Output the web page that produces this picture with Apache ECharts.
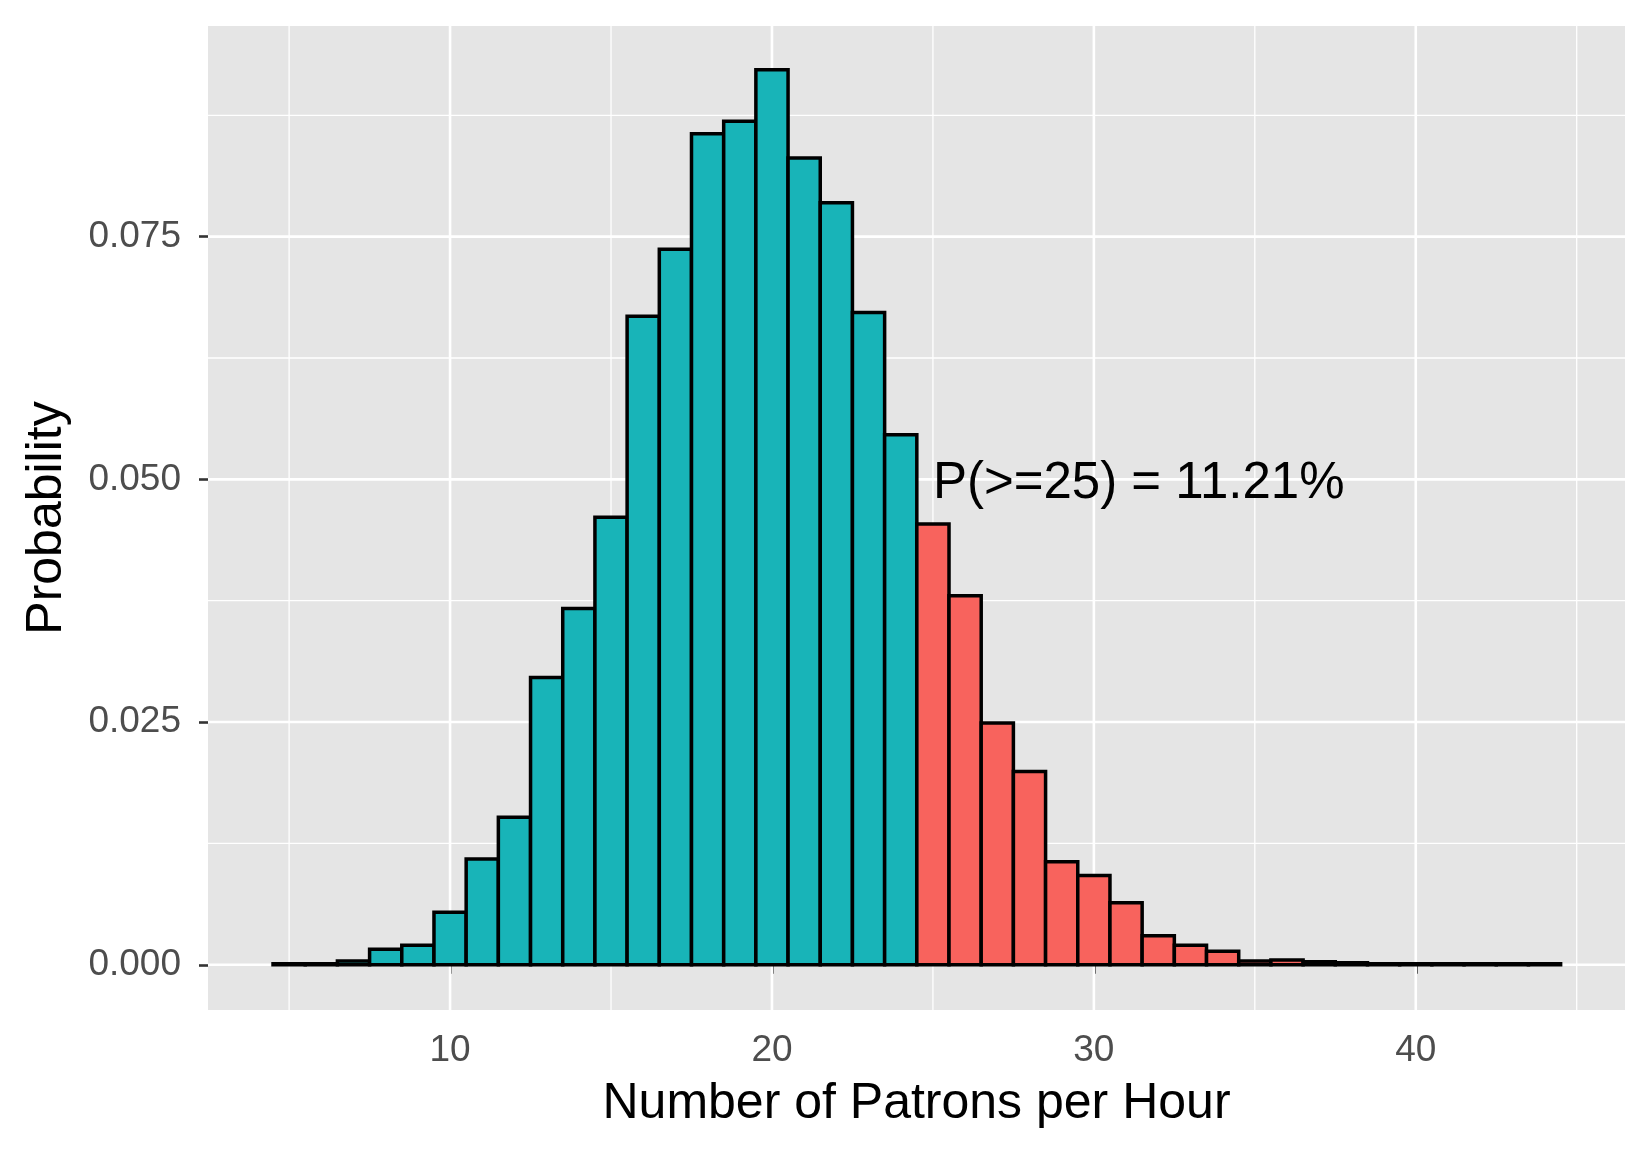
<!DOCTYPE html>
<html><head><meta charset="utf-8">
<script src="https://cdn.jsdelivr.net/npm/echarts@6/dist/echarts.min.js"></script>
<style>html,body{margin:0;padding:0;background:#fff}#c{width:1650px;height:1155px}</style>
</head><body><div id="c"></div>
<script>
const patrons = [5,6,7,8,9,10,11,12,13,14,15,16,17,18,19,20,21,22,23,24,25,26,27,28,29,30,31,32,33,34,35,36,37,38,39,40,41,42,43,44];
const probability = [0.0001,0.0001,0.0004,0.0016,0.0020,0.0054,0.0109,0.0152,0.0296,0.0367,0.0461,0.0668,0.0737,0.0856,0.0869,0.0922,0.0831,0.0785,0.0672,0.0546,0.0454,0.0380,0.0249,0.0199,0.0106,0.0092,0.0064,0.0030,0.0020,0.0014,0.0004,0.0005,0.0003,0.0002,0.0001,0.0001,0.0001,0.0001,0.0001,0.0001];
const threshold = 25;
const xTicks = [10,20,30,40];
const xMinor = [5,15,25,35,45];
const yTicks = [0,0.025,0.05,0.075];
const yMinor = [0.0125,0.0375,0.0625,0.0875];
const annotation = {x:25, y:0.0495, text:'P(>=25) = 11.21%'};

const chart = echarts.init(document.getElementById('c'));
const font = 'Liberation Sans, Arial, sans-serif';
const gridData = [
  ...xMinor.map(v=>['x',v,1.3]), ...xTicks.map(v=>['x',v,2.6]),
  ...yMinor.map(v=>['y',v,1.3]), ...yTicks.map(v=>['y',v,2.6])
];
chart.setOption({
  animation:false,
  grid:{left:208,right:25,top:26,bottom:145,show:true,backgroundColor:'#e5e5e5',borderWidth:0},
  xAxis:{type:'value',min:2.48,max:46.5,
    name:'Number of Patrons per Hour',nameLocation:'middle',nameGap:69,
    nameTextStyle:{fontFamily:font,fontSize:50,color:'#000'},
    axisLine:{show:false},splitLine:{show:false},
    axisTick:{show:true,length:9,lineStyle:{color:'#333',width:2.6},customValues:xTicks},
    axisLabel:{fontFamily:font,fontSize:37,color:'#4d4d4d',margin:22,customValues:xTicks}},
  yAxis:{type:'value',min:-0.00466,max:0.0967,
    name:'Probability',nameLocation:'middle',nameGap:136,
    nameTextStyle:{fontFamily:font,fontSize:50,color:'#000'},
    axisLine:{show:false},splitLine:{show:false},
    axisTick:{show:true,length:9,lineStyle:{color:'#333',width:2.6},customValues:yTicks},
    axisLabel:{fontFamily:font,fontSize:37,color:'#4d4d4d',margin:27,customValues:yTicks,
      formatter:v=>v.toFixed(3)}},
  series:[
    {type:'custom',z:1,clip:true,data:gridData,silent:true,
     renderItem:(params,api)=>{
       const c=params.coordSys, o=gridData[params.dataIndex][0], v=gridData[params.dataIndex][1], w=gridData[params.dataIndex][2];
       let shape;
       if(o==='x'){const p=api.coord([v,0]);shape={x1:p[0],y1:c.y,x2:p[0],y2:c.y+c.height};}
       else{const p=api.coord([3,v]);shape={x1:c.x,y1:p[1],x2:c.x+c.width,y2:p[1]};}
       return {type:'line',shape,style:{stroke:'#fff',lineWidth:w}};
     }},
    {type:'custom',z:2,data:patrons.map((x,i)=>[x,probability[i]]),
     renderItem:(params,api)=>{
       const x=api.value(0), y=api.value(1);
       const p0=api.coord([x-0.5,y]), p1=api.coord([x+0.5,0]);
       return {type:'rect',shape:{x:p0[0],y:p0[1],width:p1[0]-p0[0],height:p1[1]-p0[1]},
         style:{fill:x>=threshold?'#f8635d':'#18b4b8',stroke:'#000',lineWidth:3.5}};
     }},
    {type:'custom',z:3,data:[[annotation.x,annotation.y]],
     renderItem:(params,api)=>{
       const p=api.coord([api.value(0),api.value(1)]);
       return {type:'text',x:p[0],y:p[1],style:{text:annotation.text,fontFamily:font,fontSize:51,fill:'#000',align:'left',verticalAlign:'middle'}};
     }}
  ]
});
</script></body></html>
